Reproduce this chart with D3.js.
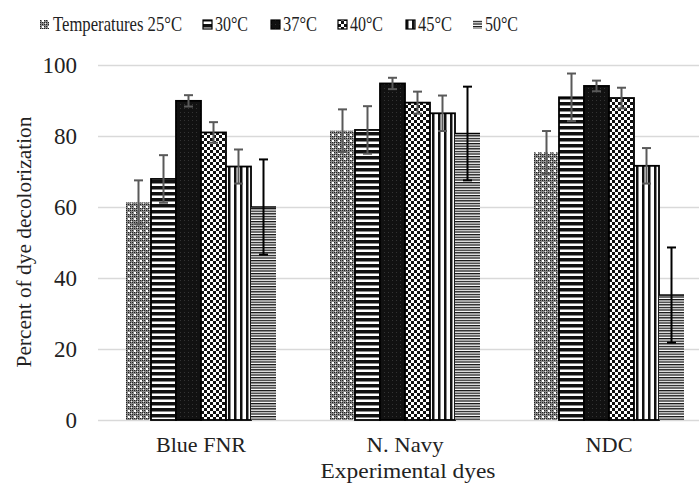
<!DOCTYPE html>
<html><head><meta charset="utf-8">
<script src="https://cdn.jsdelivr.net/npm/d3@7"></script>
<style>body{margin:0;background:#fff}svg{display:block}</style>
</head><body><svg id="c" width="699" height="488" font-family="'Liberation Serif', 'Times New Roman', 'DejaVu Serif', serif"></svg>
<script>
const dyes = ["Blue FNR", "N. Navy", "NDC"];
const temps = ["25°C", "30°C", "37°C", "40°C", "45°C", "50°C"];
const legendLabels = ["Temperatures 25°C", "30°C", "37°C", "40°C", "45°C", "50°C"];
const values = {
  "Blue FNR": [61.3, 67.9, 89.9, 81.0, 71.4, 60.0],
  "N. Navy":  [81.5, 81.7, 94.8, 89.4, 86.4, 80.7],
  "NDC":      [75.4, 90.9, 94.1, 90.7, 71.6, 35.2]
};
const errors = {
  "Blue FNR": [6.2, 6.7, 1.6, 2.9, 4.8, 13.4],
  "N. Navy":  [6.0, 6.7, 1.6, 3.1, 5.0, 13.2],
  "NDC":      [6.0, 6.7, 1.5, 2.9, 5.0, 13.4]
};
const yTicks = [0, 20, 40, 60, 80, 100];

const svg = d3.select("#c");
const defs = svg.append("defs");
function pat(id, w, h, draw){ const p = defs.append("pattern").attr("id", id).attr("patternUnits","userSpaceOnUse").attr("width", w).attr("height", h); draw(p); }
pat("p0", 6, 6, p => {
  p.append("rect").attr("width",6).attr("height",6).attr("fill","#8a8a8a");
  [[0,0],[2,0],[4,0],[0,2],[4,2],[0,4],[2,4],[4,4]].forEach(([x,y])=>p.append("rect").attr("x",x).attr("y",y).attr("width",1).attr("height",1).attr("fill","#222"));
  p.append("rect").attr("x",2).attr("y",2).attr("width",2).attr("height",2).attr("fill","#fff");
  p.append("rect").attr("x",5).attr("y",5).attr("width",1).attr("height",1).attr("fill","#eee");
});
pat("p1", 6, 6, p => { p.append("rect").attr("width",6).attr("height",6).attr("fill","#fff"); p.append("rect").attr("width",6).attr("height",3.5).attr("fill","#111"); });
pat("p2", 4, 4, p => { p.append("rect").attr("width",4).attr("height",4).attr("fill","#111"); p.append("rect").attr("width",1).attr("height",1).attr("fill","#333"); });
pat("p3", 6, 6, p => { p.append("rect").attr("width",6).attr("height",6).attr("fill","#fff"); p.append("rect").attr("width",3).attr("height",3).attr("fill","#111"); p.append("rect").attr("x",3).attr("y",3).attr("width",3).attr("height",3).attr("fill","#111"); });
pat("p4", 6, 6, p => { p.append("rect").attr("width",6).attr("height",6).attr("fill","#fff"); p.append("rect").attr("width",2.5).attr("height",6).attr("fill","#111"); });
pat("p5", 6, 2.6, p => { p.append("rect").attr("width",6).attr("height",2.6).attr("fill","#fff"); p.append("rect").attr("width",6).attr("height",1.3).attr("fill","#111"); });
const fills = temps.map((t,i)=>`url(#p${i})`);
const strokes = ["none","#000","#000","#000","#000","none"];
const errColor = ["#595959","#595959","#595959","#595959","#595959","#000"];

const y = d3.scaleLinear().domain([0,100]).range([420,65]);
const x0 = d3.scaleBand().domain(dyes).range([99,711]).paddingInner(0.2647).paddingOuter(0.13235);
const x1 = d3.scaleBand().domain(temps).range([0, x0.bandwidth()]);

const gridG = svg.append("g").attr("transform","translate(98,0)")
  .call(d3.axisLeft(y).tickValues(yTicks).tickSize(-601).tickFormat(""));
gridG.select(".domain").remove();
gridG.selectAll("line").attr("stroke","#d9d9d9").attr("stroke-width",1.5);
svg.append("g").selectAll("text").data(yTicks).join("text")
  .attr("x",77).attr("y",d=>y(d)).attr("dy","0.35em").attr("text-anchor","end")
  .attr("font-size",23).attr("fill","#222").text(d=>d);

const rows = dyes.flatMap(d => temps.map((t,i)=>({dye:d,t,i,v:values[d][i],e:errors[d][i]})));
svg.append("g").selectAll("rect").data(rows).join("rect")
  .attr("x",d=>x0(d.dye)+x1(d.t)).attr("width",x1.bandwidth())
  .attr("y",d=>y(d.v)).attr("height",d=>y(0)-y(d.v))
  .attr("fill",d=>fills[d.i]).attr("stroke",d=>strokes[d.i]).attr("stroke-width",1.8);
svg.append("g").selectAll("line").data(rows.filter(d=>d.i===5)).join("line")
  .attr("x1",d=>x0(d.dye)+x1(d.t)).attr("x2",d=>x0(d.dye)+x1(d.t)+x1.bandwidth())
  .attr("y1",d=>y(d.v)).attr("y2",d=>y(d.v)).attr("stroke","#000").attr("stroke-width",1.5);
const eg = svg.append("g").selectAll("g").data(rows).join("g")
  .attr("stroke",d=>errColor[d.i]).attr("stroke-width",2);
const cx = d => x0(d.dye)+x1(d.t)+x1.bandwidth()/2;
eg.append("line").attr("x1",cx).attr("x2",cx).attr("y1",d=>y(d.v+d.e)).attr("y2",d=>y(d.v-d.e));
eg.append("line").attr("x1",d=>cx(d)-4.5).attr("x2",d=>cx(d)+4.5).attr("y1",d=>y(d.v+d.e)).attr("y2",d=>y(d.v+d.e));
eg.append("line").attr("x1",d=>cx(d)-4.5).attr("x2",d=>cx(d)+4.5).attr("y1",d=>y(d.v-d.e)).attr("y2",d=>y(d.v-d.e));

const xLabLen = [90, 77, 47];
svg.append("g").selectAll("text").data(dyes).join("text")
  .attr("x",d=>x0(d)+x0.bandwidth()/2).attr("y",452).attr("text-anchor","middle")
  .attr("font-size",21).attr("fill","#222")
  .attr("textLength",(d,i)=>xLabLen[i]).attr("lengthAdjust","spacingAndGlyphs").text(d=>d);
svg.append("text").attr("x",408).attr("y",478).attr("text-anchor","middle").attr("font-size",22).attr("fill","#222")
  .attr("textLength",175).attr("lengthAdjust","spacingAndGlyphs").text("Experimental dyes");
svg.append("text").attr("transform","translate(31,242) rotate(-90)").attr("text-anchor","middle").attr("font-size",21).attr("fill","#222")
  .attr("textLength",251).attr("lengthAdjust","spacingAndGlyphs").text("Percent of dye decolorization");

const legX = [40, 203, 271, 338, 406, 473];
const legLen = [129, 33, 34, 33, 34, 33];
const lg = svg.append("g").selectAll("g").data(legendLabels).join("g").attr("transform",(d,i)=>`translate(${legX[i]},0)`);
lg.append("rect").attr("x",0).attr("y",20).attr("width",9).attr("height",9)
  .attr("fill",(d,i)=>fills[i]).attr("stroke",(d,i)=>i===0||i===5?"none":"#000").attr("stroke-width",1.2);
lg.append("text").attr("x",(d,i)=>i===0?13:12).attr("y",31).attr("font-size",21).attr("fill","#222")
  .attr("textLength",(d,i)=>legLen[i]).attr("lengthAdjust","spacingAndGlyphs").text(d=>d);
</script></body></html>
